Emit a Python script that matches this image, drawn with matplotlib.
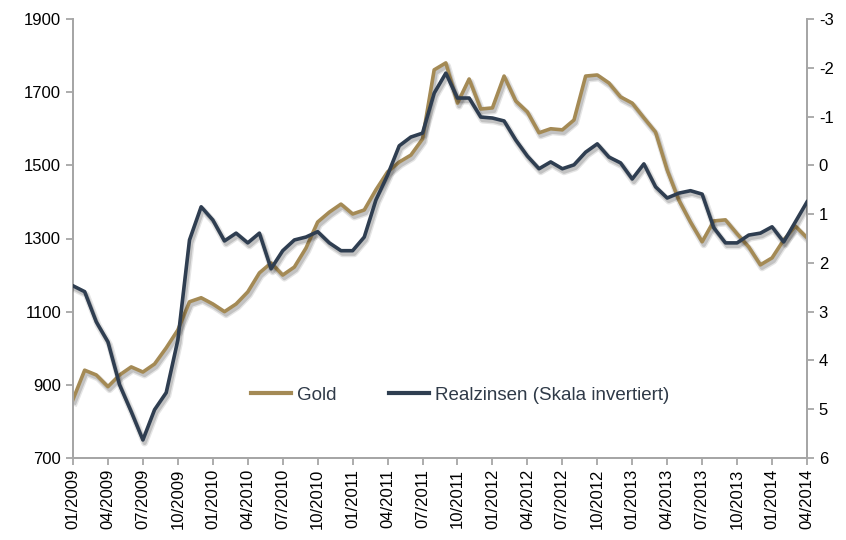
import matplotlib
matplotlib.use("Agg")
import matplotlib.pyplot as plt
import matplotlib.patheffects as pe
import numpy as np

plt.rcParams['font.family'] = ['Liberation Sans', 'DejaVu Sans']
plt.rcParams['axes.unicode_minus'] = False

# Monthly data 01/2009 .. 04/2014 (64 months)
gold = [860, 940, 927, 895, 927, 949, 935, 957, 1001, 1050,
        1127, 1138, 1121, 1100, 1121, 1154, 1206, 1233, 1200, 1222,
        1274, 1345, 1372, 1394, 1367, 1378, 1433, 1482, 1509, 1528,
        1572, 1761, 1780, 1670, 1736, 1654, 1657, 1744, 1676, 1646,
        1589, 1600, 1597, 1624, 1744, 1747, 1725, 1687, 1670, 1630,
        1591, 1487, 1405, 1345, 1291, 1348, 1351, 1313, 1277, 1228,
        1247, 1296, 1334, 1302]
realzinsen = [2.47, 2.59, 3.21, 3.62, 4.50, 5.05, 5.63, 5.01, 4.66, 3.58,
              1.53, 0.85, 1.12, 1.55, 1.39, 1.59, 1.39, 2.12, 1.75, 1.53,
              1.47, 1.36, 1.59, 1.75, 1.75, 1.47, 0.71, 0.20, -0.40, -0.58,
              -0.66, -1.48, -1.89, -1.38, -1.38, -0.99, -0.97, -0.91, -0.52, -0.19,
              0.07, -0.07, 0.07, -0.01, -0.27, -0.44, -0.17, -0.05, 0.28, -0.03,
              0.44, 0.67, 0.57, 0.52, 0.59, 1.28, 1.59, 1.59, 1.43, 1.39,
              1.26, 1.57, 1.16, 0.75]
tick_labels = ['01/2009', '04/2009', '07/2009', '10/2009',
               '01/2010', '04/2010', '07/2010', '10/2010',
               '01/2011', '04/2011', '07/2011', '10/2011',
               '01/2012', '04/2012', '07/2012', '10/2012',
               '01/2013', '04/2013', '07/2013', '10/2013',
               '01/2014', '04/2014']
left_ticks = [700, 900, 1100, 1300, 1500, 1700, 1900]
right_ticks = [-3, -2, -1, 0, 1, 2, 3, 4, 5, 6]

gold_color = '#A48A55'
dark_color = '#2F3E51'
spine_color = '#A6A6A6'

x = np.arange(len(gold))

fig = plt.figure(figsize=(8.46, 5.40), dpi=100)
ax = fig.add_axes([73/846, 1-458/540, (807-73)/846, (458-19)/540])
ax2 = ax.twinx()

def shadow():
    return [pe.SimpleLineShadow(offset=(1.2, -2.2), shadow_color='#000000', alpha=0.10, linewidth=5.0),
            pe.SimpleLineShadow(offset=(1.2, -2.2), shadow_color='#000000', alpha=0.15, linewidth=3.0),
            pe.Normal()]

l1, = ax.plot(x, gold, color=gold_color, lw=2.6, label='Gold', path_effects=shadow(), zorder=3)
l2, = ax2.plot(x, realzinsen, color=dark_color, lw=2.6, label='Realzinsen (Skala invertiert)',
               path_effects=shadow(), zorder=3)

ax.set_xlim(0, len(gold) - 1)
ax.set_ylim(700, 1900)
ax.set_yticks(left_ticks)
ax2.set_ylim(6, -3)
ax2.set_yticks(right_ticks)
ax2.set_yticklabels([str(t) for t in right_ticks])

ax.set_xticks(x[::3])
ax.set_xticklabels(tick_labels, rotation=90)

for a in (ax, ax2):
    for s in a.spines.values():
        s.set_color(spine_color)
        s.set_linewidth(1.3)
    a.spines['top'].set_visible(False)
    a.tick_params(colors=spine_color, width=1.3, length=5, labelcolor='#000000', labelsize=12)

ax.tick_params(axis='x', pad=3)
ax.patch.set_visible(False)

leg = ax.legend(handles=[l1, l2], loc='center', bbox_to_anchor=((460-73)/734, 1-(395-19)/439), ncol=2,
                frameon=False, fontsize=13.5, columnspacing=2.8, handlelength=2.15, handletextpad=0.3,
                labelcolor='#2F3A48')
for h in leg.legend_handles:
    h.set_path_effects([])
    h.set_linewidth(3)

fig.savefig('out.png', dpi=100)
